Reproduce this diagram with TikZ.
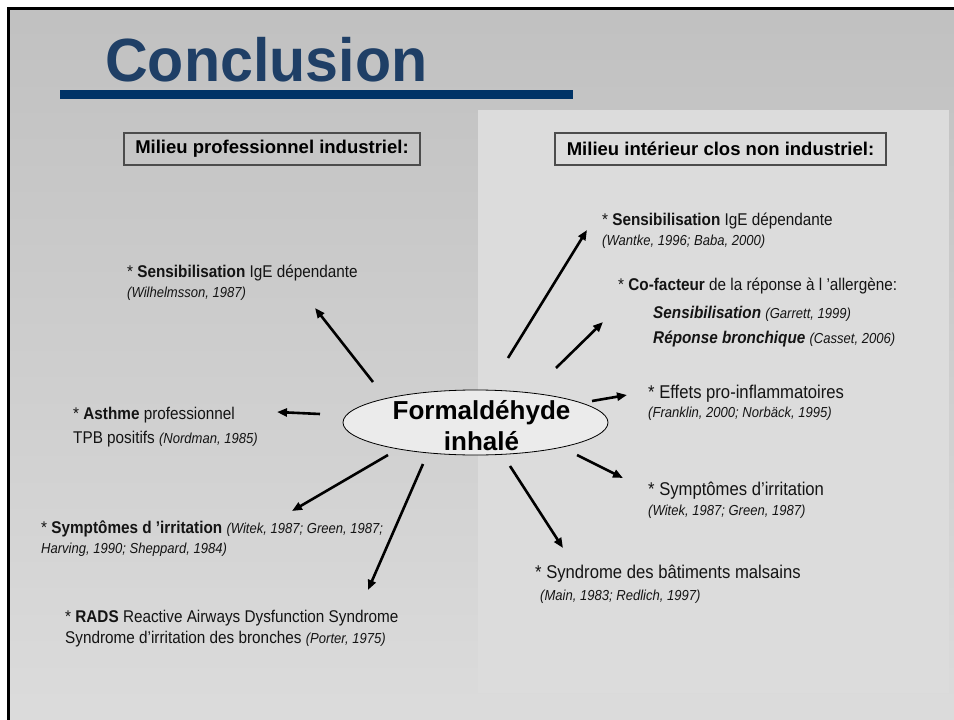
\documentclass[tikz,border=0pt]{standalone}
\usepackage{fontspec}
\setmainfont{Liberation Sans}
\newfontfamily\nar{Liberation Sans}[FakeStretch=0.9]
\newfontfamily\titlefont{Liberation Sans}[FakeStretch=0.97]
\usetikzlibrary{arrows.meta,shapes.geometric}
\definecolor{bgtop}{HTML}{B3B3B3}
\definecolor{bgbot}{HTML}{E9E9E9}
\definecolor{panel}{HTML}{DCDCDC}
\definecolor{titleblue}{HTML}{1F3F66}
\definecolor{barblue}{HTML}{003366}
\definecolor{ink}{HTML}{141414}
\definecolor{ellfill}{HTML}{EBEBEB}
\pgfdeclareverticalshading{bgshade}{100bp}{color(0bp)=(bgbot); color(100bp)=(bgtop)}
\newcommand{\cit}[1]{{\fontsize{14.5}{17}\selectfont\itshape #1}}
\begin{document}
\begin{tikzpicture}[x=1pt,y=-1pt,
 item/.style={anchor=base west, inner sep=0pt, font=\nar\fontsize{17}{20}\selectfont, text=ink},
 bigitem/.style={item, font=\nar\fontsize{18.5}{21}\selectfont},
 cite/.style={anchor=base west, inner sep=0pt, font=\nar\fontsize{14.5}{17}\selectfont\itshape, text=ink},
 arr/.style={line width=2.6pt, -{Triangle[length=10pt,width=8pt]}},
 hdr/.style={draw=black!70, line width=1.2pt, inner sep=0pt, minimum height=32pt, font=\bfseries\fontsize{18.5}{20}\selectfont, text=black}
]
\useasboundingbox (0,0) rectangle (954,720);
\fill[white] (0,0) rectangle (954,720);
\shade[shading=bgshade] (7,7) rectangle (954,720);
\fill[panel] (478,110) rectangle (949,693);
\draw[line width=3pt] (8.5,720) -- (8.5,8.5) -- (954,8.5);
% title
\node[anchor=base west, inner sep=0pt, text=titleblue, font=\titlefont\bfseries\fontsize{61}{61}\selectfont] (title) at (105,81) {Conclusion};
\fill[barblue] (60,90) rectangle (573,99);
% headers
\node[hdr, minimum width=296pt] (hl) at (272,149) {Milieu professionnel industriel:};
\node[hdr, minimum width=331pt] (hr) at (720.5,149) {Milieu intérieur clos non industriel:};
% center
\node[ellipse, draw=black, line width=0.8pt, fill=ellfill, minimum width=265pt, minimum height=65pt, inner sep=0pt] (form) at (475.5,422.5) {};
\node[anchor=base, inner sep=0pt, font=\bfseries\fontsize{26}{26}\selectfont] (formA) at (481.5,419) {Formaldéhyde};
\node[anchor=base, inner sep=0pt, font=\bfseries\fontsize{26}{26}\selectfont] (formB) at (481.5,450) {inhalé};
% left items
\node[item] (L1) at (127,277) {* \textbf{Sensibilisation} IgE dépendante};
\node[cite] (L1c) at (127,297) {(Wilhelmsson, 1987)};
\node[item] (L2) at (73,419) {* \textbf{Asthme} professionnel};
\node[item] (L2b) at (73,443) {TPB positifs \cit{(Nordman, 1985)}};
\node[item] (L3) at (41,533) {* \textbf{Symptômes d ’irritation} \cit{(Witek, 1987; Green, 1987;}};
\node[cite] (L3c) at (41,553) {Harving, 1990; Sheppard, 1984)};
\node[item] (L4) at (65,622) {* \textbf{RADS} Reactive Airways Dysfunction Syndrome};
\node[item] (L4b) at (65,643) {Syndrome d’irritation des bronches \cit{(Porter, 1975)}};
% right items
\node[item] (R1) at (602,225) {* \textbf{Sensibilisation} IgE dépendante};
\node[cite] (R1c) at (602,245) {(Wantke, 1996; Baba, 2000)};
\node[item] (R2) at (618,290) {* \textbf{Co-facteur} de la réponse à l ’allergène:};
\node[item] (R2b) at (653,318) {\textbf{\itshape Sensibilisation} \cit{(Garrett, 1999)}};
\node[item] (R2c) at (653,343) {\textbf{\itshape Réponse bronchique} \cit{(Casset, 2006)}};
\node[bigitem] (R3) at (648,398) {* Effets pro-inflammatoires};
\node[cite] (R3c) at (648,417) {(Franklin, 2000; Norbäck, 1995)};
\node[bigitem] (R4) at (648,495) {* Symptômes d’irritation};
\node[cite] (R4c) at (648,515) {(Witek, 1987; Green, 1987)};
\node[bigitem] (R5) at (535,578) {* Syndrome des bâtiments malsains};
\node[cite] (R5c) at (540,600) {(Main, 1983; Redlich, 1997)};
% arrow end points
\coordinate (s1) at (373,382); \coordinate (e1) at (315,308);
\coordinate (s2) at (320,414); \coordinate (e2) at (277,412);
\coordinate (s3) at (388,455); \coordinate (e3) at (292,511);
\coordinate (s4) at (423,464); \coordinate (e4) at (368,590);
\coordinate (s5) at (508,358); \coordinate (e5) at (587,230);
\coordinate (s6) at (556,368); \coordinate (e6) at (603,322);
\coordinate (s7) at (592,401); \coordinate (e7) at (627,395);
\coordinate (s8) at (577,455); \coordinate (e8) at (623,478);
\coordinate (s9) at (510,466); \coordinate (e9) at (563,548);
\foreach \i in {1,...,9} {\draw[arr] (s\i) -- (e\i);}
\end{tikzpicture}
\end{document}
